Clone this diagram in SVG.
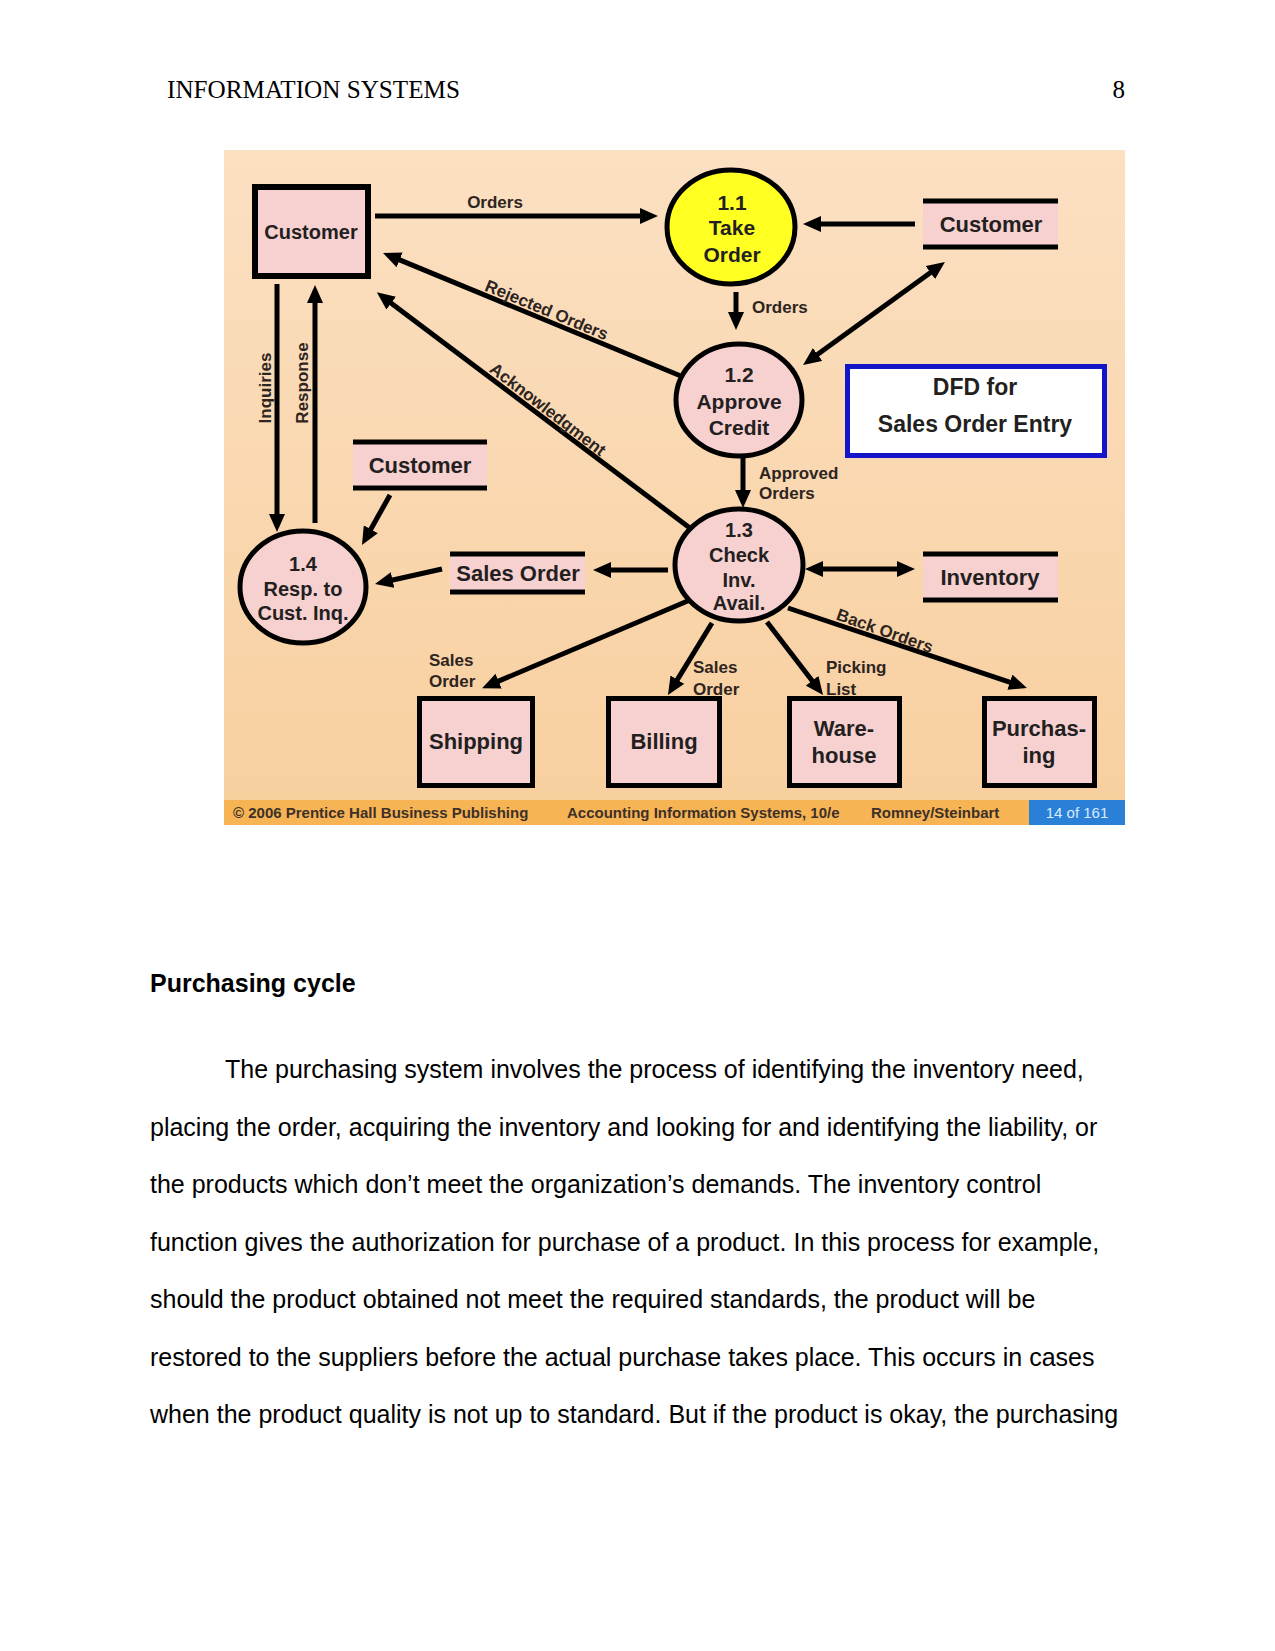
<svg xmlns="http://www.w3.org/2000/svg" width="1275" height="1651" viewBox="0 0 1275 1651">
<style>
.pg{font-family:"Liberation Sans",Arial,sans-serif;font-size:25px;fill:#000}
.hd{font-family:"Liberation Serif","Times New Roman",serif;font-size:25px;fill:#000}
.n{font-family:"Liberation Sans",Arial,sans-serif;font-weight:bold;fill:#231f20;text-anchor:middle}
.lb{font-family:"Liberation Sans",Arial,sans-serif;font-weight:bold;font-size:17px;fill:#2e2420}
.ft{font-family:"Liberation Sans",Arial,sans-serif;font-weight:bold;font-size:15px;fill:#3e3028}
.c{stroke:#000;stroke-width:5;fill:none}
.ca{stroke:#000;stroke-width:5;fill:none;marker-end:url(#ah)}
.cd{stroke:#000;stroke-width:5;fill:none;marker-end:url(#ah);marker-start:url(#ah)}
.box{fill:#f7d0d0;stroke:#000;stroke-width:5}
.proc{fill:#f7d0d0;stroke:#000;stroke-width:5}
.bar{stroke:#000;stroke-width:5}
</style>
<defs>
<marker id="ah" markerUnits="userSpaceOnUse" markerWidth="18" markerHeight="16" viewBox="0 0 18 16" refX="2" refY="8" orient="auto-start-reverse">
<path d="M0,0 L18,8 L0,16 z" fill="#000"/>
</marker>
<linearGradient id="bg" x1="0" y1="0" x2="0" y2="1">
<stop offset="0" stop-color="#fbe0c2"/>
<stop offset="1" stop-color="#f8cf9e"/>
</linearGradient>
</defs>
<rect width="1275" height="1651" fill="#fff"/>
<text class="hd" x="167" y="98" textLength="293" lengthAdjust="spacingAndGlyphs">INFORMATION SYSTEMS</text>
<text class="hd" x="1125" y="98" text-anchor="end">8</text>

<g id="diagram">
<rect x="224" y="150" width="901" height="675" fill="url(#bg)"/>
<g id="footer">
<rect x="224" y="800" width="901" height="25" fill="#f6b455"/>
<rect x="1029" y="800" width="96" height="25" fill="#2a80d6"/>
<text class="ft" x="233" y="818">© 2006 Prentice Hall Business Publishing</text>
<text class="ft" x="567" y="818">Accounting Information Systems, 10/e</text>
<text class="ft" x="871" y="818">Romney/Steinbart</text>
<text class="ft" x="1077" y="818" text-anchor="middle" style="fill:#d8ecff;font-weight:normal">14 of 161</text>
</g>

<g id="connectors">
<line class="ca" x1="375" y1="216" x2="642" y2="216"/>
<line class="ca" x1="915" y1="224" x2="819" y2="224"/>
<line class="ca" x1="736" y1="292" x2="736" y2="314"/>
<line class="cd" x1="816" y1="355.6" x2="932" y2="271.4"/>
<line class="ca" x1="739" y1="400" x2="397.8" y2="259.1"/>
<line class="ca" x1="739" y1="565" x2="389.6" y2="301.9"/>
<line class="ca" x1="743" y1="457" x2="743" y2="492"/>
<line class="cd" x1="821" y1="569" x2="899" y2="569"/>
<line class="ca" x1="668" y1="570" x2="609" y2="570"/>
<line class="ca" x1="442" y1="569" x2="390.6" y2="580.5"/>
<line class="ca" x1="390" y1="495" x2="369.8" y2="531"/>
<line class="ca" x1="277" y1="284" x2="277" y2="516"/>
<line class="ca" x1="315" y1="523" x2="315" y2="301"/>
<line class="ca" x1="690" y1="600" x2="496.8" y2="681.9"/>
<line class="ca" x1="712" y1="623" x2="676.3" y2="681.4"/>
<line class="ca" x1="767" y1="622" x2="813.3" y2="682.3"/>
<line class="ca" x1="788" y1="608" x2="1011.8" y2="682.9"/>
<text class="lb" x="495" y="208" text-anchor="middle">Orders</text>
<text class="lb" x="752" y="313">Orders</text>
<text class="lb" transform="translate(543,319) rotate(22.5)" x="0" y="-4" text-anchor="middle">Rejected Orders</text>
<text class="lb" transform="translate(542,417) rotate(37.5)" x="0" y="-4" text-anchor="middle">Acknowledgment</text>
<text class="lb" transform="translate(882,639) rotate(19.5)" x="0" y="-3" text-anchor="middle">Back Orders</text>
<text class="lb" transform="translate(271,388) rotate(-90)" x="0" y="0" text-anchor="middle">Inquiries</text>
<text class="lb" transform="translate(308,383) rotate(-90)" x="0" y="0" text-anchor="middle">Response</text>
<text class="lb" x="759" y="479">Approved</text>
<text class="lb" x="759" y="499">Orders</text>
<text class="lb" x="429" y="666">Sales</text>
<text class="lb" x="429" y="687">Order</text>
<text class="lb" x="693" y="673">Sales</text>
<text class="lb" x="693" y="695">Order</text>
<text class="lb" x="826" y="673">Picking</text>
<text class="lb" x="826" y="695">List</text>
</g>

<g id="customer-entity">
<rect x="255" y="187" width="113" height="89" fill="#f7d0d0" stroke="#000" stroke-width="6"/>
<text class="n" x="311" y="239" font-size="20">Customer</text>
</g>
<g id="p11">
<ellipse cx="731" cy="227" rx="64" ry="57" fill="#ffff22" stroke="#000" stroke-width="5"/>
<text class="n" x="732" y="210" font-size="21">1.1</text>
<text class="n" x="732" y="235" font-size="21">Take</text>
<text class="n" x="732" y="262" font-size="21">Order</text>
</g>
<g id="customer-store-top">
<rect x="923" y="203" width="135" height="42" fill="#f7d0d0"/>
<line class="bar" x1="923" y1="201" x2="1058" y2="201"/>
<line class="bar" x1="923" y1="247" x2="1058" y2="247"/>
<text class="n" x="991" y="232" font-size="22">Customer</text>
</g>
<g id="p12">
<ellipse class="proc" cx="739" cy="400" rx="63" ry="56"/>
<text class="n" x="739" y="382" font-size="21">1.2</text>
<text class="n" x="739" y="409" font-size="21">Approve</text>
<text class="n" x="739" y="435" font-size="21">Credit</text>
</g>
<g id="dfd-title">
<rect x="847.5" y="366.5" width="257" height="89" fill="#fff" stroke="#1414c8" stroke-width="5"/>
<text class="n" x="975" y="395" font-size="23">DFD for</text>
<text class="n" x="975" y="432" font-size="23">Sales Order Entry</text>
</g>
<g id="customer-store-mid">
<rect x="353" y="444" width="134" height="42" fill="#f7d0d0"/>
<line class="bar" x1="353" y1="442" x2="487" y2="442"/>
<line class="bar" x1="353" y1="488" x2="487" y2="488"/>
<text class="n" x="420" y="473" font-size="22">Customer</text>
</g>
<g id="p13">
<ellipse class="proc" cx="739" cy="565" rx="64" ry="56"/>
<text class="n" x="739" y="537" font-size="20">1.3</text>
<text class="n" x="739" y="562" font-size="20">Check</text>
<text class="n" x="739" y="587" font-size="20">Inv.</text>
<text class="n" x="739" y="610" font-size="20">Avail.</text>
</g>
<g id="inventory-store">
<rect x="923" y="556" width="135" height="42" fill="#f7d0d0"/>
<line class="bar" x1="923" y1="554" x2="1058" y2="554"/>
<line class="bar" x1="923" y1="600" x2="1058" y2="600"/>
<text class="n" x="990" y="585" font-size="22">Inventory</text>
</g>
<g id="salesorder-store">
<rect x="450" y="556" width="135" height="34" fill="#f7d0d0"/>
<line class="bar" x1="450" y1="554" x2="585" y2="554"/>
<line class="bar" x1="450" y1="592" x2="585" y2="592"/>
<text class="n" x="518" y="581" font-size="22">Sales Order</text>
</g>
<g id="p14">
<ellipse class="proc" cx="303" cy="587" rx="63" ry="56"/>
<text class="n" x="303" y="571" font-size="20">1.4</text>
<text class="n" x="303" y="596" font-size="20">Resp. to</text>
<text class="n" x="303" y="620" font-size="20">Cust. Inq.</text>
</g>
<g id="shipping">
<rect class="box" x="419.5" y="698.5" width="113" height="87"/>
<text class="n" x="476" y="749" font-size="22">Shipping</text>
</g>
<g id="billing">
<rect class="box" x="608.5" y="698.5" width="111" height="87"/>
<text class="n" x="664" y="749" font-size="22">Billing</text>
</g>
<g id="warehouse">
<rect class="box" x="789.5" y="698.5" width="110" height="87"/>
<text class="n" x="844" y="736" font-size="22">Ware-</text>
<text class="n" x="844" y="763" font-size="22">house</text>
</g>
<g id="purchasing">
<rect class="box" x="984.5" y="698.5" width="110" height="87"/>
<text class="n" x="1039" y="736" font-size="22">Purchas-</text>
<text class="n" x="1039" y="763" font-size="22">ing</text>
</g>
</g>

<text class="pg" x="150" y="992" font-weight="bold">Purchasing cycle</text>
<text class="pg" x="225" y="1078">The purchasing system involves the process of identifying the inventory need,</text>
<text class="pg" x="150" y="1136">placing the order, acquiring the inventory and looking for and identifying the liability, or</text>
<text class="pg" x="150" y="1193">the products which don’t meet the organization’s demands. The inventory control</text>
<text class="pg" x="150" y="1251">function gives the authorization for purchase of a product. In this process for example,</text>
<text class="pg" x="150" y="1308">should the product obtained not meet the required standards, the product will be</text>
<text class="pg" x="150" y="1366">restored to the suppliers before the actual purchase takes place. This occurs in cases</text>
<text class="pg" x="150" y="1423">when the product quality is not up to standard. But if the product is okay, the purchasing</text>
</svg>
